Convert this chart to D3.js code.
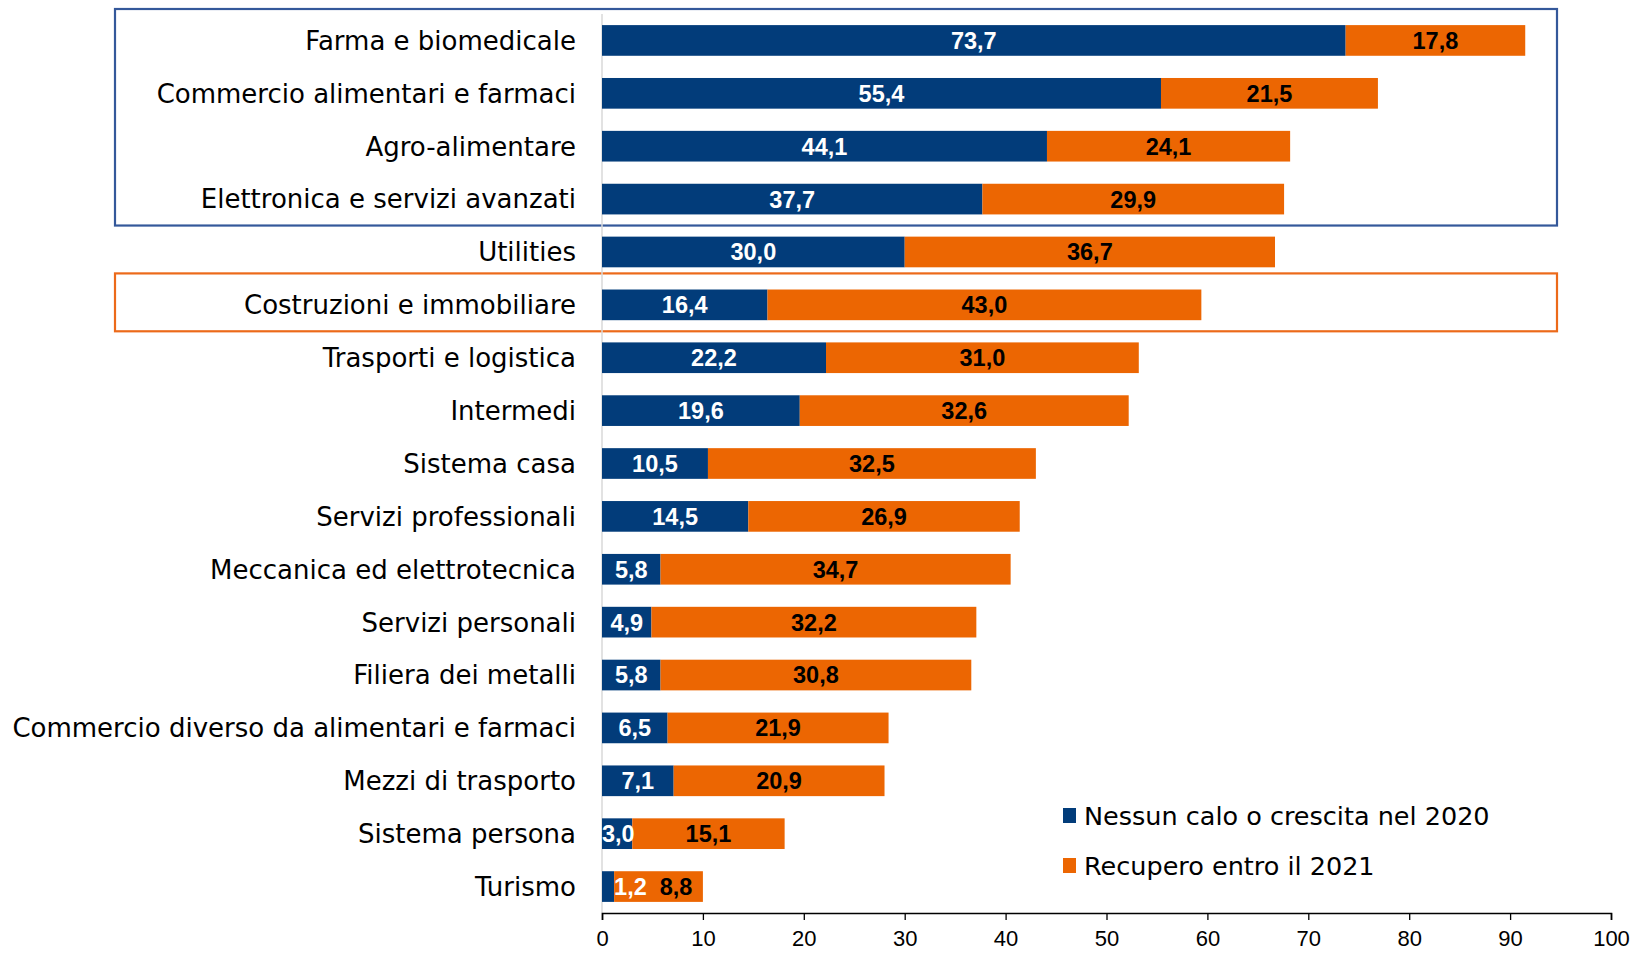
<!DOCTYPE html>
<html>
<head>
<meta charset="utf-8">
<script src="https://cdn.jsdelivr.net/npm/d3@7/dist/d3.min.js"></script>
<style>
  html, body { margin: 0; padding: 0; background: #fff; }
  svg { display: block; }
</style>
</head>
<body>
<svg id="chart" width="1635" height="953"></svg>
<script>
// Sector categories, top to bottom
const categories = [
  "Farma e biomedicale",
  "Commercio alimentari e farmaci",
  "Agro-alimentare",
  "Elettronica e servizi avanzati",
  "Utilities",
  "Costruzioni e immobiliare",
  "Trasporti e logistica",
  "Intermedi",
  "Sistema casa",
  "Servizi professionali",
  "Meccanica ed elettrotecnica",
  "Servizi personali",
  "Filiera dei metalli",
  "Commercio diverso da alimentari e farmaci",
  "Mezzi di trasporto",
  "Sistema persona",
  "Turismo"
];

// Share of firms (%) with no drop or growth in 2020
const nessunCalo = [73.7, 55.4, 44.1, 37.7, 30.0, 16.4, 22.2, 19.6, 10.5, 14.5, 5.8, 4.9, 5.8, 6.5, 7.1, 3.0, 1.2];
// Share of firms (%) recovering by 2021
const recupero = [17.8, 21.5, 24.1, 29.9, 36.7, 43.0, 31.0, 32.6, 32.5, 26.9, 34.7, 32.2, 30.8, 21.9, 20.9, 15.1, 8.8];

const seriesNames = ["Nessun calo o crescita nel 2020", "Recupero entro il 2021"];
const xTicks = [0, 10, 20, 30, 40, 50, 60, 70, 80, 90, 100];

// Highlighted groups of rows (first and last row of each)
const blueGroup = ["Farma e biomedicale", "Elettronica e servizi avanzati"];
const orangeGroup = ["Costruzioni e immobiliare", "Costruzioni e immobiliare"];

const BLUE = "#023c7a";
const ORANGE = "#ec6602";
const LABEL_FONT = "'DejaVu Sans', 'Noto Sans', sans-serif";
const VALUE_FONT = "'Liberation Sans', Arial, sans-serif";

const svg = d3.select("#chart");
const AXIS_Y = 913;

const x = d3.scaleLinear().domain([0, 100]).range([602, 1611]);
const y = d3.scaleBand().domain(categories).range([14, AXIS_Y]).paddingInner(0.42).paddingOuter(0.21);

const rows = categories.map((c, i) => ({ cat: c, a: nessunCalo[i], b: recupero[i] }));

// Highlight boxes around groups of rows
function groupBox(group, color) {
  const gap = y.paddingInner() * y.step();
  const top = y(group[0]) - gap / 2 - 5;
  const bottom = y(group[1]) + y.bandwidth() + gap / 2;
  svg.append("rect")
    .attr("x", 115).attr("y", top)
    .attr("width", 1557 - 115).attr("height", bottom - top)
    .attr("fill", "none").attr("stroke", color).attr("stroke-width", 2.2);
}
groupBox(blueGroup, "#34589a");
groupBox(orangeGroup, "#ec6a1a");

// Vertical category axis line
svg.append("line")
  .attr("x1", x(0)).attr("x2", x(0))
  .attr("y1", 14).attr("y2", AXIS_Y)
  .attr("stroke", "#d9d9d9").attr("stroke-width", 1.5);

// Stacked bars
const g = svg.append("g");
g.selectAll("rect.a").data(rows).join("rect")
  .attr("class", "a")
  .attr("x", x(0)).attr("y", d => y(d.cat))
  .attr("width", d => x(d.a) - x(0)).attr("height", y.bandwidth())
  .attr("fill", BLUE);
g.selectAll("rect.b").data(rows).join("rect")
  .attr("class", "b")
  .attr("x", d => x(d.a)).attr("y", d => y(d.cat))
  .attr("width", d => x(d.a + d.b) - x(d.a)).attr("height", y.bandwidth())
  .attr("fill", ORANGE);

// Category labels
svg.append("g").selectAll("text").data(categories).join("text")
  .attr("x", x(0) - 26)
  .attr("y", d => y(d) + y.bandwidth() / 2)
  .attr("dy", "0.36em")
  .attr("text-anchor", "end")
  .attr("font-family", LABEL_FONT)
  .attr("font-size", 26)
  .attr("fill", "#000")
  .text(d => d);

// Value labels, centred in their segments; a label much wider than its
// segment starts right after it, and the next one moves clear of it
const fmt = v => v.toFixed(1).replace(".", ",");
const vl = svg.append("g")
  .attr("font-family", VALUE_FONT)
  .attr("font-weight", "bold")
  .attr("font-size", 23.5)
  .attr("text-anchor", "middle");

rows.forEach(d => {
  const cy = y(d.cat) + y.bandwidth() / 2;
  const ta = vl.append("text").attr("y", cy).attr("dy", "0.36em").attr("fill", "#fff").text(fmt(d.a));
  const wa = ta.node().getComputedTextLength();
  const segA = x(d.a) - x(0);
  let xa = (x(0) + x(d.a)) / 2;
  if (wa > segA * 1.6) xa = x(d.a) + wa / 2;
  else xa = Math.max(xa, x(0) + wa / 2);
  ta.attr("x", xa);
  const tb = vl.append("text").attr("y", cy).attr("dy", "0.36em").attr("fill", "#000").text(fmt(d.b));
  const wb = tb.node().getComputedTextLength();
  let xb = (x(d.a) + x(d.a + d.b)) / 2;
  xb = Math.max(xb, xa + wa / 2 + 13 + wb / 2);
  tb.attr("x", xb);
});

// X axis
const xAxis = svg.append("g")
  .attr("transform", `translate(0,${AXIS_Y})`)
  .call(d3.axisBottom(x).tickValues(xTicks).tickSize(7).tickPadding(10).tickFormat(d3.format("d")));
xAxis.select(".domain").attr("stroke", "#000").attr("stroke-width", 1.6);
xAxis.selectAll(".tick line").attr("stroke", "#000").attr("stroke-width", 1.3);
xAxis.selectAll(".tick text")
  .attr("font-family", VALUE_FONT)
  .attr("font-size", 22)
  .attr("fill", "#000");

// Legend
const legend = svg.append("g").attr("transform", "translate(1063,0)");
[BLUE, ORANGE].forEach((c, i) => {
  const ly = 816 + i * 50;
  legend.append("rect").attr("x", 0).attr("y", ly - 8).attr("width", 13).attr("height", 15).attr("fill", c);
  legend.append("text").attr("x", 21).attr("y", ly).attr("dy", "0.36em")
    .attr("font-family", LABEL_FONT).attr("font-size", 25.5).attr("fill", "#000")
    .text(seriesNames[i]);
});
</script>
</body>
</html>
